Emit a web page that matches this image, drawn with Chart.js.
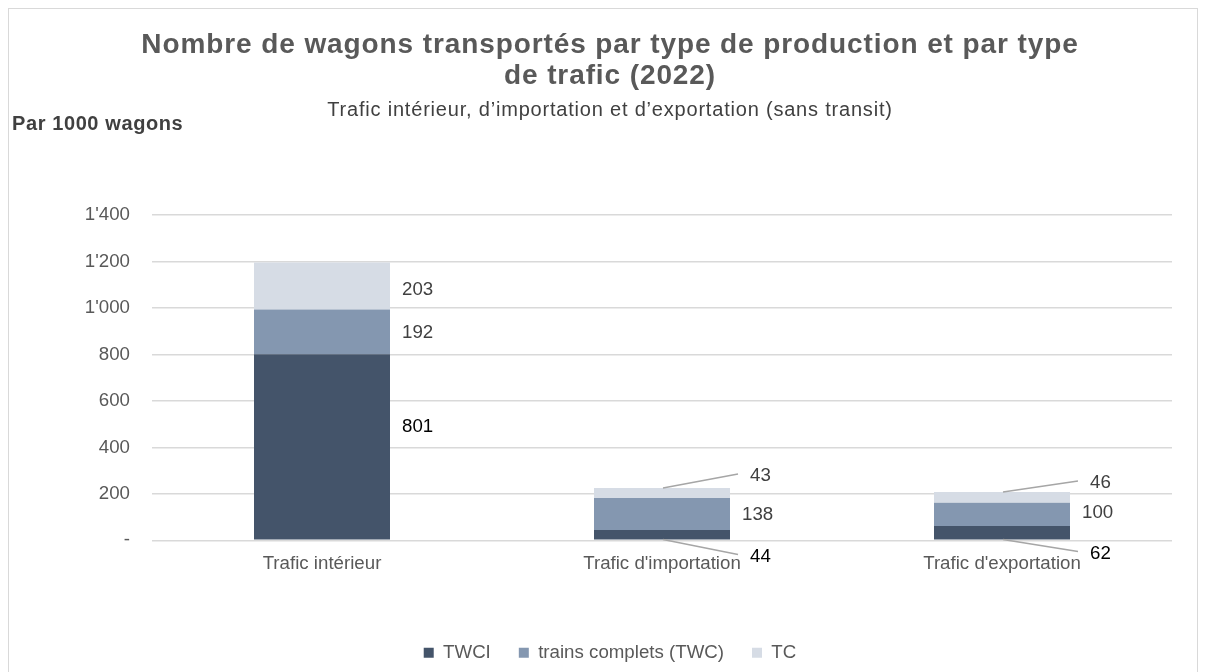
<!DOCTYPE html>
<html>
<head>
<meta charset="utf-8">
<script src="https://cdn.jsdelivr.net/npm/chart.js@4/dist/chart.umd.min.js"></script>
<style>
  body { margin: 0; background: #fff; }
  #wrap { width: 1206px; height: 672px; }
</style>
</head>
<body>
<div id="wrap"><canvas id="wagonChart" width="1206" height="672"></canvas></div>
<script>
// Données (en milliers de wagons)
const categories = ['Trafic intérieur', "Trafic d'importation", "Trafic d'exportation"];
const seriesNames = ['TWCI', 'trains complets (TWC)', 'TC'];
const twci = [801, 44, 62];
const twc = [192, 138, 100];
const tc = [203, 43, 46];
const yTickLabels = ['-', '200', '400', '600', '800', "1'000", "1'200", "1'400"];

const titleLines = ['Nombre de wagons transportés par type de production et par type', 'de trafic (2022)'];
const subtitle = 'Trafic intérieur, d’importation et d’exportation (sans transit)';
const unitLabel = 'Par 1000 wagons';

const colors = ['#44546a', '#8497b0', '#d6dce5'];
const font = '"Liberation Sans", Arial, sans-serif';

// position des étiquettes : à côté du segment, ou avec une ligne de rappel
const labelStyle = {
  '0-0': { side: true, dy: -20 },
  '1-0': { side: true, dy: 1 },
  '2-0': { side: true, dy: 4 },
  '1-1': { side: true, dy: 1 },
  '1-2': { side: true, dy: -1 },
  '2-1': { leader: 'top', dx: 75, dy: -14 },
  '2-2': { leader: 'top', dx: 75, dy: -11 },
  '0-1': { leader: 'base', dx: 75, dy: 15 },
  '0-2': { leader: 'base', dx: 75, dy: 12 }
};

// cadre, titres et unité
const framePlugin = {
  id: 'frame',
  beforeDraw(chart) {
    const c = chart.ctx;
    c.save();
    c.fillStyle = '#fff';
    c.fillRect(0, 0, chart.width, chart.height);
    c.strokeStyle = '#d9d9d9';
    c.lineWidth = 1;
    c.strokeRect(8.5, 8.5, 1189, 700);
    c.textBaseline = 'middle';
    c.textAlign = 'center';
    c.fillStyle = '#595959';
    c.font = 'bold 28px ' + font;
    c.letterSpacing = '0.9px';
    c.fillText(titleLines[0], 610, 45);
    c.fillText(titleLines[1], 610, 76);
    c.fillStyle = '#404040';
    c.font = '20px ' + font;
    c.letterSpacing = '0.8px';
    c.fillText(subtitle, 610, 110);
    c.textAlign = 'left';
    c.font = 'bold 20px ' + font;
    c.letterSpacing = '0.6px';
    c.fillText(unitLabel, 12, 124);
    c.restore();
  }
};

const labelPlugin = {
  id: 'barLabels',
  afterDatasetsDraw(chart) {
    const c = chart.ctx;
    c.save();
    c.font = '18.7px ' + font;
    c.textBaseline = 'middle';
    chart.data.datasets.forEach((ds, d) => {
      chart.getDatasetMeta(d).data.forEach((bar, i) => {
        const st = labelStyle[d + '-' + i];
        if (!st) return;
        const txt = String(ds.data[i]);
        c.fillStyle = d === 0 ? '#000' : '#404040';
        if (st.side) {
          c.fillText(txt, bar.x + bar.width / 2 + 12, (bar.y + bar.base) / 2 + st.dy);
        } else {
          const y0 = st.leader === 'top' ? bar.y : bar.base;
          const x0 = bar.x + 1;
          const x1 = x0 + st.dx, y1 = y0 + st.dy;
          c.strokeStyle = '#a6a6a6';
          c.lineWidth = 1.5;
          c.beginPath();
          c.moveTo(x0, y0);
          c.lineTo(x1, y1);
          c.stroke();
          c.fillText(txt, x1 + 12, y1 + 2);
        }
      });
    });
    c.restore();
  }
};

const ctx = document.getElementById('wagonChart').getContext('2d');
const wagonChart = new Chart(ctx, {
  type: 'bar',
  data: {
    labels: categories,
    datasets: [
      { label: seriesNames[0], data: twci, backgroundColor: colors[0] },
      { label: seriesNames[1], data: twc, backgroundColor: colors[1] },
      { label: seriesNames[2], data: tc, backgroundColor: colors[2] }
    ]
  },
  options: {
    responsive: false,
    animation: false,
    layout: { padding: { left: 48, right: 34, top: 215, bottom: 0 } },
    datasets: { bar: { barPercentage: 0.4, categoryPercentage: 1 } },
    plugins: {
      title: { display: false },
      legend: {
        position: 'bottom',
        labels: {
          color: '#595959',
          font: { family: font, size: 18.7 },
          boxWidth: 10,
          boxHeight: 10,
          padding: 28
        }
      },
      tooltip: { enabled: false }
    },
    scales: {
      x: {
        stacked: true,
        grid: { display: false },
        border: { display: false },
        ticks: { color: '#595959', font: { family: font, size: 18.7 }, padding: 4 },
        afterFit(scale) { scale.height = 75; }
      },
      y: {
        stacked: true,
        min: 0,
        max: 1400,
        grid: { color: '#d9d9d9', lineWidth: 1.5, drawTicks: false },
        border: { display: false },
        ticks: {
          stepSize: 200,
          padding: 22,
          color: '#595959',
          font: { family: font, size: 18.7 },
          callback: (v, i) => yTickLabels[i]
        },
        afterFit(scale) { scale.width = 104; }
      }
    }
  },
  plugins: [framePlugin, labelPlugin]
});
</script>
</body>
</html>
